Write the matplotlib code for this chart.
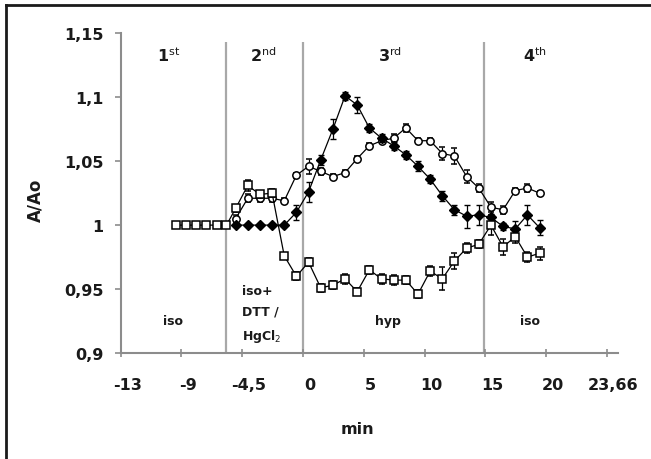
import matplotlib
matplotlib.use("Agg")
from matplotlib import pyplot as plt
from matplotlib import transforms
from matplotlib.lines import Line2D

plt.rcParams['font.family'] = ['DejaVu Sans']
plt.rcParams['mathtext.fontset'] = 'dejavusans'

## data (x = position on the evenly spaced time axis, one unit per tick)
tick_labels = ['-13', '-9', '-4,5', '0', '5', '10', '15', '20', '23,66']
y_ticks = [0.9, 0.95, 1.0, 1.05, 1.1, 1.15]
y_tick_labels = ['0,9', '0,95', '1', '1,05', '1,1', '1,15']

x_pre = [0.91, 1.08, 1.24, 1.41, 1.58, 1.74]
x_main = [1.89, 2.09, 2.29, 2.49, 2.69, 2.89,
          3.09, 3.29, 3.49, 3.69, 3.89, 4.09, 4.29, 4.49, 4.69, 4.89,
          5.09, 5.29, 5.49, 5.69, 5.89,
          6.09, 6.29, 6.49, 6.69, 6.89]

# open squares
sq_y = [1.0, 1.0, 1.0, 1.0, 1.0, 1.0,
        1.013, 1.031, 1.024, 1.025, 0.976, 0.960,
        0.971, 0.951, 0.953, 0.958, 0.948, 0.965, 0.958, 0.957, 0.957,
        0.946, 0.964, 0.958, 0.972, 0.982, 0.985,
        1.000, 0.983, 0.991, 0.975, 0.978]
sq_err = [0, 0, 0, 0, 0, 0,
          0.003, 0.004, 0.003, 0.003, 0.002, 0.003,
          0.003, 0.003, 0.003, 0.004, 0.003, 0.003, 0.004, 0.004, 0.003,
          0.003, 0.004, 0.009, 0.006, 0.004, 0.003,
          0.008, 0.006, 0.005, 0.004, 0.005]

# open circles
ci_y = [1.005, 1.021, 1.021, 1.021, 1.019, 1.039,
        1.046, 1.042, 1.038, 1.041, 1.052, 1.062, 1.066, 1.068, 1.076,
        1.066, 1.066, 1.056, 1.054, 1.038, 1.029,
        1.014, 1.012, 1.027, 1.029, 1.025]
ci_err = [0.003, 0.003, 0.003, 0.003, 0.002, 0.002,
          0.006, 0.003, 0.002, 0.002, 0.002, 0.002, 0.002, 0.003, 0.003,
          0.002, 0.002, 0.005, 0.006, 0.005, 0.003,
          0.004, 0.003, 0.002, 0.003, 0.002]

# filled diamonds
di_y = [1.0, 1.0, 1.0, 1.0, 1.0, 1.010,
        1.026, 1.051, 1.075, 1.101, 1.094, 1.076, 1.068, 1.062, 1.055,
        1.046, 1.036, 1.023, 1.012, 1.007, 1.008,
        1.006, 0.999, 0.997, 1.008, 0.998]
di_err = [0, 0, 0, 0, 0, 0.006,
          0.008, 0.004, 0.008, 0.003, 0.006, 0.003, 0.003, 0.003, 0.003,
          0.004, 0.003, 0.004, 0.004, 0.009, 0.008,
          0.003, 0.003, 0.006, 0.008, 0.006]

phase_bounds = [1.74, 3.0, 5.97]
phase_names = [r'1$^{\mathrm{st}}$', r'2$^{\mathrm{nd}}$', r'3$^{\mathrm{rd}}$', r'4$^{\mathrm{th}}$']
phase_media = ['iso', 'iso+\nDTT /\nHgCl$_2$', 'hyp', 'iso']

## figure
fig = plt.figure(figsize=(6.51, 4.60), dpi=100)
ax = fig.add_axes([120.7 / 651, 1 - 354 / 460, (618 - 120.7) / 651, (354 - 34.3) / 460])

grey = '#8c8c8c'
ink = '#1a1a1a'

ax.vlines(phase_bounds, 0.9, 1.143, colors='#a8a8a8', lw=1.6, zorder=1)

common = dict(color='black', lw=0.9, ecolor='black', elinewidth=0.9, capsize=2.2, capthick=0.9)
ax.errorbar(x_main, ci_y, yerr=ci_err, marker='o', ms=5.3, mfc='white', mec='black', mew=1.1, zorder=3, **common)
ax.errorbar(x_main, di_y, yerr=di_err, marker='D', ms=4.8, mfc='black', mec='black', mew=1.0, zorder=4, **common)
ax.errorbar(x_pre + x_main, sq_y, yerr=sq_err, marker='s', ms=5.8, mfc='white', mec='black', mew=1.1, zorder=5, **common)

ax.set_xlim(0, 8.18)
ax.set_ylim(0.9, 1.15)
for s in ['top', 'right']:
    ax.spines[s].set_visible(False)
for s in ['left', 'bottom']:
    ax.spines[s].set_color(grey)
    ax.spines[s].set_linewidth(1.5)

ax.set_xticks(range(len(tick_labels)))
ax.set_xticklabels(tick_labels, fontsize=11.5, fontweight='bold', color=ink)
ax.set_yticks(y_ticks)
ax.set_yticklabels(y_tick_labels, fontsize=11.5, fontweight='bold', color=ink)
ax.tick_params(axis='x', direction='inout', length=6, width=1.2, color=grey, pad=14)
ax.tick_params(axis='y', direction='out', length=4.5, width=1.2, color=grey, pad=8)
shift = transforms.ScaledTranslation(6.5 / 100, 0, fig.dpi_scale_trans)
for lbl in ax.get_xticklabels():
    lbl.set_transform(lbl.get_transform() + shift)

# phase titles and media
for xp, name in zip([0.79, 2.34, 4.43, 6.82], phase_names):
    ax.text(xp, 1.128, name, ha='center', va='baseline', fontsize=11.5, fontweight='bold', color=ink)
ax.text(0.86, 0.9257, phase_media[0], ha='center', va='center', fontsize=9, fontweight='bold', color=ink)
ax.text(2.0, 0.9304, phase_media[1], ha='left', va='center', fontsize=9, fontweight='bold', color=ink, linespacing=1.75)
ax.text(4.40, 0.9257, phase_media[2], ha='center', va='center', fontsize=9, fontweight='bold', color=ink)
ax.text(6.73, 0.9257, phase_media[3], ha='center', va='center', fontsize=9, fontweight='bold', color=ink)

fig.text(35 / 651, 1 - 200 / 460, 'A/Ao', rotation=90, ha='center', va='center', fontsize=12, fontweight='bold', color=ink)
fig.text(357 / 651, 1 - 430 / 460, 'min', ha='center', va='center', fontsize=11.5, fontweight='bold', color=ink)

# frame around the picture (top and left only visible)
fig.add_artist(Line2D([5.5 / 651, 1], [1 - 5.5 / 460, 1 - 5.5 / 460], transform=fig.transFigure, color=ink, lw=2))
fig.add_artist(Line2D([5.5 / 651, 5.5 / 651], [0, 1 - 5.5 / 460], transform=fig.transFigure, color=ink, lw=2))

plt.savefig('out.png', dpi=100)
